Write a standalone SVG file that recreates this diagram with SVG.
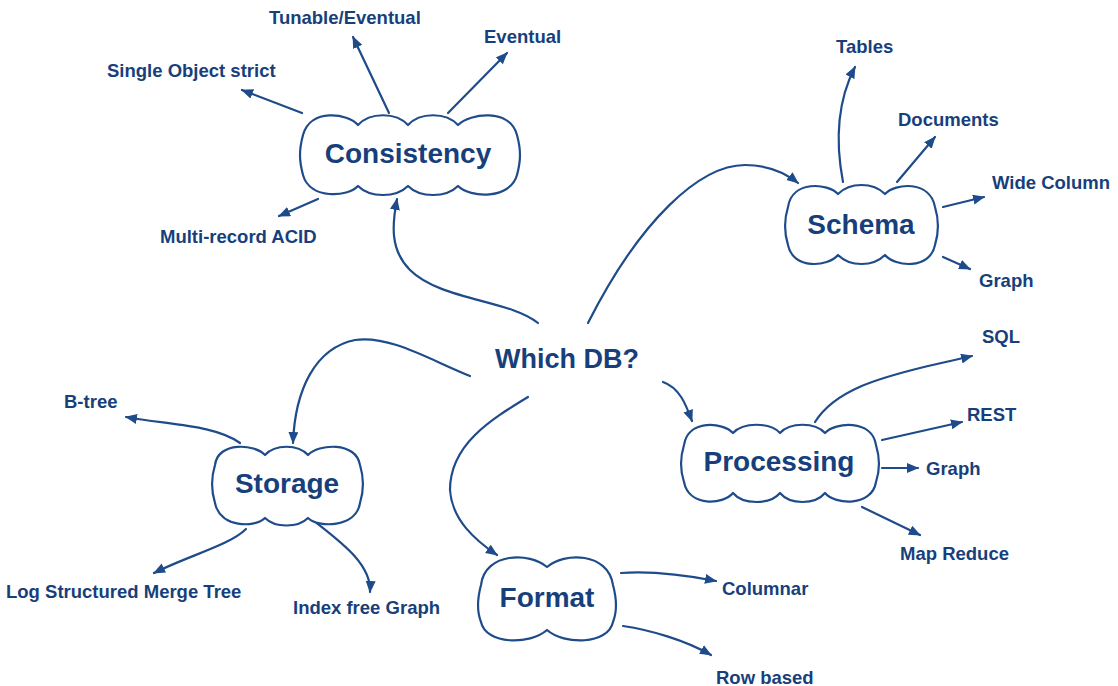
<svg xmlns="http://www.w3.org/2000/svg" width="1118" height="686" viewBox="0 0 1118 686">
<style>
.bg{fill:#ffffff}
.cloud{fill:#ffffff;stroke:#1e4b8a;stroke-width:2.2;stroke-linejoin:round}
.big{font-family:"Liberation Sans",Arial,sans-serif;font-weight:bold;font-size:28px;fill:#173f7b;text-anchor:middle}
.hub{font-family:"Liberation Sans",Arial,sans-serif;font-weight:bold;font-size:27px;fill:#173f7b;text-anchor:middle}
.lbl{font-family:"Liberation Sans",Arial,sans-serif;font-weight:bold;font-size:18.5px;fill:#173f7b}
.con{fill:none;stroke:#1e4b8a;stroke-width:2.2;stroke-linecap:round;marker-end:url(#ah)}
</style>
<defs>
<marker id="ah" markerUnits="userSpaceOnUse" markerWidth="12" markerHeight="11" refX="11" refY="5" orient="auto">
<path d="M0,0 L12,5 L0,10 z" fill="#1e4b8a"/>
</marker>
</defs>
<rect class="bg" x="0" y="0" width="1118" height="686"/>
<g id="connectors">
<path class="con" d="M538,323 C510,300 440,300 410,270 C390,250 392,225 397,199"/>
<path class="con" d="M588,323 C640,220 700,165 745,165 C770,165 788,175 798,183"/>
<path class="con" d="M470,376 C430,360 390,335 355,340 C315,348 295,390 293,443"/>
<path class="con" d="M663,382 C680,388 686,405 692,421"/>
<path class="con" d="M528,397 C490,420 450,445 450,490 C452,520 475,540 497,555"/>
<path class="con" d="M302,113 L242,90"/>
<path class="con" d="M389,113 L353,37"/>
<path class="con" d="M448,113 L507,53"/>
<path class="con" d="M318,199 L279,216"/>
<path class="con" d="M843,182 C835,140 838,100 855,67"/>
<path class="con" d="M897,182 L935,137"/>
<path class="con" d="M943,207 L984,197"/>
<path class="con" d="M943,257 L970,269"/>
<path class="con" d="M815,422 C835,390 880,378 920,368 C945,362 960,359 972,356"/>
<path class="con" d="M882,440 L962,422"/>
<path class="con" d="M882,468 L918,468"/>
<path class="con" d="M862,507 L920,535"/>
<path class="con" d="M240,443 C215,425 170,425 126,417"/>
<path class="con" d="M246,529 C230,545 190,555 154,573"/>
<path class="con" d="M303,512 C330,535 372,560 370,592"/>
<path class="con" d="M621,573 C650,571 680,574 716,581"/>
<path class="con" d="M623,626 C650,630 685,640 711,655"/>
</g>
<g id="which-db">
<text class="hub" x="567" y="368">Which DB?</text>
</g>
<g id="consistency">
<path class="cloud" d="M358,125 C348,113 310,108 303,135 C299,150 299,160 303,175 C310,200 348,197 358,186 C370,198 396,198 408,186 C420,198 446,198 458,186 C470,198 510,200 517,175 C521,160 521,150 517,135 C510,108 470,113 458,125 C446,112 420,112 408,125 C396,112 370,112 358,125 Z"/>
<text class="big" x="408" y="163">Consistency</text>
</g>
<g id="schema">
<path class="cloud" d="M838,194 C828,183 792,180 788,207 C784,220 784,232 788,245 C793,270 828,267 838,255 C850,267 873,267 885,255 C895,267 930,270 935,245 C939,232 939,220 935,207 C930,180 895,183 885,194 C873,182 850,182 838,194 Z"/>
<text class="big" x="861" y="234">Schema</text>
</g>
<g id="storage">
<path class="cloud" d="M265,455 C255,444 218,441 215,465 C211,478 211,490 215,503 C220,528 255,528 265,518 C275,528 298,528 308,518 C318,528 356,528 360,503 C364,490 364,478 360,465 C356,441 318,444 308,455 C298,444 275,444 265,455 Z"/>
<text class="big" x="287" y="493">Storage</text>
</g>
<g id="processing">
<path class="cloud" d="M733,433 C723,422 688,419 684,445 C680,458 680,470 684,482 C689,507 723,505 733,493 C743,505 770,505 780,493 C790,505 815,505 825,493 C835,505 872,507 876,482 C880,470 880,458 876,445 C872,419 835,422 825,433 C815,422 790,422 780,433 C770,422 743,422 733,433 Z"/>
<text class="big" x="779" y="471">Processing</text>
</g>
<g id="format">
<path class="cloud" d="M547,567 C530,552 485,552 481,585 C477,600 477,612 481,622 C486,645 530,645 547,630 C564,645 608,645 613,622 C617,612 617,600 613,585 C608,552 564,552 547,567 Z"/>
<text class="big" x="547" y="607">Format</text>
</g>
<g id="labels">
<text class="lbl" x="269" y="24">Tunable/Eventual</text>
<text class="lbl" x="484" y="43">Eventual</text>
<text class="lbl" x="107" y="77">Single Object strict</text>
<text class="lbl" x="160" y="243">Multi-record ACID</text>
<text class="lbl" x="836" y="53">Tables</text>
<text class="lbl" x="898" y="126">Documents</text>
<text class="lbl" x="992" y="189">Wide Column</text>
<text class="lbl" x="979" y="287">Graph</text>
<text class="lbl" x="982" y="343">SQL</text>
<text class="lbl" x="967" y="421">REST</text>
<text class="lbl" x="926" y="475">Graph</text>
<text class="lbl" x="900" y="560">Map Reduce</text>
<text class="lbl" x="722" y="595">Columnar</text>
<text class="lbl" x="716" y="684">Row based</text>
<text class="lbl" x="64" y="408">B-tree</text>
<text class="lbl" x="6" y="598">Log Structured Merge Tree</text>
<text class="lbl" x="293" y="614">Index free Graph</text>
</g>
</svg>
